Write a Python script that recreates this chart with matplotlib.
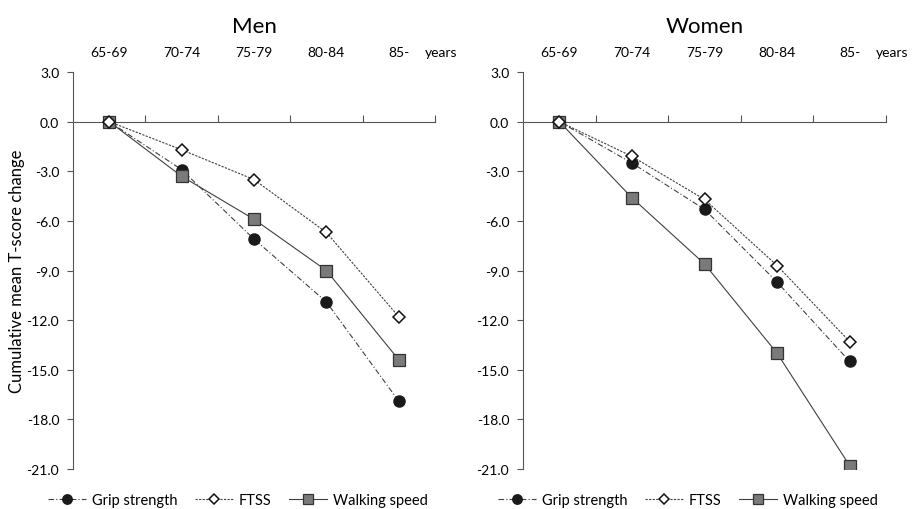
import numpy as np
import matplotlib.pyplot as plt
from matplotlib.ticker import FixedLocator

plt.rcParams['font.family'] = ['Lato', 'DejaVu Sans']

ages = ["65-69", "70-74", "75-79", "80-84", "85-"]

men_grip = [0.0, -2.9, -7.1, -10.9, -16.9]
men_ftss = [0.0, -1.7, -3.5, -6.7, -11.8]
men_walk = [0.0, -3.3, -5.9, -9.0, -14.4]

women_grip = [0.0, -2.5, -5.3, -9.7, -14.5]
women_ftss = [0.0, -2.1, -4.7, -8.7, -13.3]
women_walk = [0.0, -4.6, -8.6, -14.0, -20.8]

yticks = [3.0, 0.0, -3.0, -6.0, -9.0, -12.0, -15.0, -18.0, -21.0]

fig = plt.figure(figsize=(9.15, 5.1), dpi=100)
axL = fig.add_axes([0.0798, 0.0784, 0.3956, 0.7784])
axR = fig.add_axes([0.5716, 0.0784, 0.3967, 0.7784])

ln = '#404040'
panels = [(axL, "Men", men_grip, men_ftss, men_walk),
          (axR, "Women", women_grip, women_ftss, women_walk)]

for ax, title, g, f, w in panels:
    x = np.arange(len(ages))
    ax.plot(x, g, color=ln, lw=0.8, ls=(0, (5, 2, 1, 2)), marker='o', ms=8,
            mfc='#1a1a1a', mec='#1a1a1a', label='Grip strength', zorder=3)
    ax.plot(x, f, color=ln, lw=0.8, ls=(0, (2, 1.2)), marker='D', ms=6.5,
            mfc='white', mec='#111111', mew=1.1, label='FTSS', zorder=4)
    ax.plot(x, w, color=ln, lw=0.8, ls='-', marker='s', ms=8,
            mfc='#7a7a7a', mec='#333333', mew=0.9, label='Walking speed', zorder=3)

    ax.set_xlim(-0.5, 4.5)
    ax.set_ylim(-21, 3)
    ax.set_yticks(yticks)
    ax.set_yticklabels([f"{v:.1f}" for v in yticks], fontsize=10)
    ax.spines['top'].set_visible(False)
    ax.spines['right'].set_visible(False)
    ax.spines['bottom'].set_position(('data', 0))
    ax.spines['left'].set_color('#555555')
    ax.spines['bottom'].set_color('#555555')
    ax.xaxis.set_major_locator(FixedLocator([0.5, 1.5, 2.5, 3.5, 4.5]))
    ax.tick_params(axis='x', direction='in', length=5, color='#555555',
                   labelbottom=False)
    ax.tick_params(axis='y', direction='out', length=4, color='#555555', pad=6)

    top = ax.secondary_xaxis('top')
    top.set_xticks(x)
    top.set_xticklabels(ages, fontsize=10)
    top.tick_params(length=0, pad=10)
    top.spines['top'].set_visible(False)

    ax.annotate("years", xy=(4.36, 1.0), xycoords=('data', 'axes fraction'),
                xytext=(0, 10), textcoords='offset points',
                fontsize=10, va='bottom', ha='left')
    ax.set_title(title, fontsize=16, pad=29)

    ax.legend(loc='upper center', bbox_to_anchor=(0.455, -0.028), ncol=3,
              frameon=False, fontsize=10.5, handlelength=2.6,
              columnspacing=1.2, handletextpad=0.4, markerscale=0.85)

axL.set_ylabel("Cumulative mean T-score change", fontsize=12, labelpad=1)

fig.savefig("out.png", dpi=100)
